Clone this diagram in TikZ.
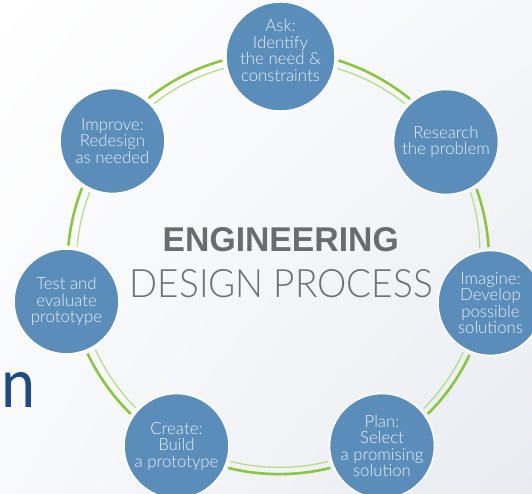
\documentclass[tikz,border=0pt]{standalone}
\usepackage{fontspec}
\usepackage{graphicx}
\usetikzlibrary{shadings}
\setmainfont{Liberation Sans}
\newfontfamily\lightf{Lato Light}
\newfontfamily\nfont{Carlito}
\definecolor{circ}{HTML}{5B8DBA}
\definecolor{txt}{HTML}{E9F0F7}
\definecolor{gthick}{HTML}{8CC63F}
\definecolor{gthin}{HTML}{B7DC8E}
\definecolor{titlegray}{HTML}{6B6C6F}
\definecolor{subgray}{HTML}{6E7073}
\definecolor{nblue}{HTML}{1F4A82}
\definecolor{bgUR}{HTML}{F6F7FA}
\definecolor{bgLL}{HTML}{F8F9FB}
\definecolor{bgLR}{HTML}{E8EBF1}
\begin{document}
\begin{tikzpicture}[x=1pt,y=1pt,
  stepnode/.style={circle, minimum size=105pt, inner sep=0pt, outer sep=3.5pt,
    fill=circ, draw=white, line width=1.6pt, text=txt, align=center,
    font=\lightf\fontsize{16.8}{16.5}\selectfont},
  thickring/.style={draw=gthick, line width=2.6pt, looseness=0.86},
  thinring/.style={draw=gthin, line width=1.3pt, looseness=0.86}]
\useasboundingbox (0,0) rectangle (532,494);
\clip (0,0) rectangle (532,494);
\shade[upper left=white, upper right=bgUR, lower left=bgLL, lower right=bgLR]
  (0,0) rectangle (532,494);

% title
\node[anchor=base west, inner sep=0pt, text=titlegray] (title1) at (162.5,242)
  {\resizebox{236pt}{24pt}{\bfseries ENGINEERING}};
\node[anchor=base west, inner sep=0pt, text=subgray] (title2) at (129.5,196)
  {\resizebox{303pt}{28pt}{\lightf DESIGN PROCESS}};

% stray letter
\node[anchor=base west, inner sep=0pt, text=nblue] (nchar) at (1,86)
  {\resizebox{34pt}{35pt}{\nfont n}};

% steps
\node[stepnode] (ask)      at (280.5,437.5) {Ask:\\Identify\\the need \&\\constraints\\[-4pt]};
\node[stepnode] (research) at (446,352)     {Research\\the problem};
\node[stepnode] (imagine)  at (490.5,191)   {Imagine:\\Develop\\possible\\solutions};
\node[stepnode] (plan)     at (382,48)      {Plan:\\Select\\a promising\\solution};
\node[stepnode] (create)   at (176.5,48)    {Create:\\Build\\a prototype};
\node[stepnode] (test)     at (66.5,192.5)  {Test and\\evaluate\\prototype};
\node[stepnode] (improve)  at (112.5,353)   {Improve:\\Redesign\\as needed};

% ring segments
\draw[thickring] (ask.-4)      to[bend left=11] (research.130);
\draw[thinring]  (ask.-12)     to[bend left=11] (research.137.5);
\draw[thickring] (research.-57) to[bend left=8] (imagine.92);
\draw[thinring]  (research.-64) to[bend left=8] (imagine.101);
\draw[thickring] (imagine.-112) to[bend left=10] (plan.35);
\draw[thinring]  (imagine.-119) to[bend left=10] (plan.42.5);
\draw[thickring] (plan.-157)   to[bend left=14] (create.-23);
\draw[thinring]  (plan.-164)   to[bend left=14] (create.-16);
\draw[thickring] (create.145)  to[bend left=10] (test.-68);
\draw[thinring]  (create.137)  to[bend left=10] (test.-59);
\draw[thickring] (test.88)     to[bend left=8] (improve.-123);
\draw[thinring]  (test.79)     to[bend left=8] (improve.-114);
\draw[thickring] (improve.50)  to[bend left=11.5] (ask.184);
\draw[thinring]  (improve.42)  to[bend left=11.5] (ask.192);
\end{tikzpicture}
\end{document}
